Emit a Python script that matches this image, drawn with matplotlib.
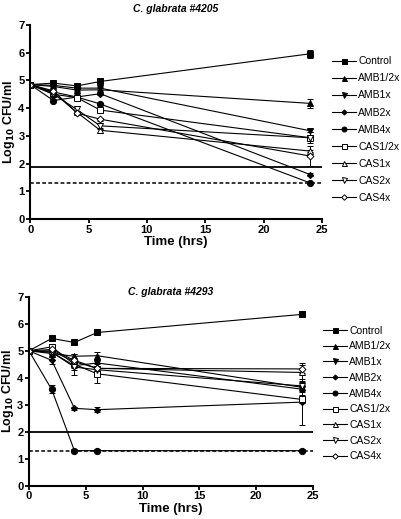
import numpy as np
import matplotlib
matplotlib.use('Agg')
import matplotlib.pyplot as plt

plt.rcParams['font.family'] = ['Liberation Sans', 'DejaVu Sans']

times = [0, 2, 4, 6, 24]
labels = ['Control', 'AMB1/2x', 'AMB1x', 'AMB2x', 'AMB4x',
          'CAS1/2x', 'CAS1x', 'CAS2x', 'CAS4x']

# C. glabrata #4205
vals_4205 = [
    [4.85, 4.90, 4.80, 4.96, 5.96],
    [4.85, 4.78, 4.65, 4.66, 4.17],
    [4.85, 4.82, 4.72, 4.72, 3.18],
    [4.85, 4.58, 4.40, 4.52, 1.60],
    [4.85, 4.27, 4.40, 4.15, 1.30],
    [4.85, 4.50, 4.38, 3.93, 2.93],
    [4.85, 4.55, 3.85, 3.20, 2.45],
    [4.85, 4.50, 3.95, 3.36, 2.93],
    [4.85, 4.62, 3.82, 3.60, 2.27],
]
err_4205 = [
    [0.05, 0.05, 0.05, 0.05, 0.15],
    [0.05, 0.05, 0.05, 0.05, 0.15],
    [0.05, 0.05, 0.05, 0.05, 0.05],
    [0.05, 0.05, 0.05, 0.05, 0.05],
    [0.05, 0.05, 0.12, 0.05, 0.05],
    [0.05, 0.05, 0.05, 0.05, 0.20],
    [0.05, 0.05, 0.05, 0.08, 0.05],
    [0.05, 0.05, 0.12, 0.10, 0.05],
    [0.05, 0.05, 0.05, 0.05, 0.35],
]
solid_4205 = 1.87

# C. glabrata #4293
vals_4293 = [
    [5.00, 5.46, 5.31, 5.68, 6.35],
    [5.00, 4.90, 4.80, 4.82, 3.65],
    [5.00, 4.95, 4.45, 4.55, 3.58],
    [5.00, 4.65, 2.87, 2.82, 3.10],
    [5.00, 3.57, 1.30, 1.30, 1.30],
    [5.00, 5.15, 4.50, 4.15, 3.20],
    [5.00, 5.00, 4.60, 4.35, 4.20],
    [5.00, 4.95, 4.40, 4.30, 3.70],
    [5.00, 5.05, 4.65, 4.35, 4.33],
]
err_4293 = [
    [0.05, 0.05, 0.05, 0.08, 0.05],
    [0.05, 0.08, 0.10, 0.12, 0.10],
    [0.05, 0.10, 0.10, 0.10, 0.10],
    [0.05, 0.12, 0.05, 0.10, 0.85],
    [0.05, 0.15, 0.05, 0.05, 0.05],
    [0.05, 0.10, 0.40, 0.35, 0.15],
    [0.05, 0.05, 0.10, 0.20, 0.35],
    [0.05, 0.05, 0.10, 0.15, 0.20],
    [0.05, 0.05, 0.10, 0.10, 0.15],
]
solid_4293 = 2.0
detect_limit = 1.3

markers = ['s', '^', 'v', 'D', 'o', 's', '^', 'v', 'D']
filled = [True, True, True, True, True, False, False, False, False]
msizes = [4.5, 4.5, 4.5, 3.2, 4.5, 4.5, 4.5, 4.5, 3.5]

fig = plt.figure(figsize=(4.02, 5.19), dpi=100)
ax1 = fig.add_axes([0.075, 0.578, 0.726, 0.374])
ax2 = fig.add_axes([0.072, 0.064, 0.707, 0.364])


def draw(ax, vals, errs, solid, title, pad, leg_y, spacing):
    handles = []
    for v, e, lab, m, f, ms in zip(vals, errs, labels, markers, filled, msizes):
        c = ax.errorbar(times, v, yerr=e, color='black', lw=0.8, marker=m, ms=ms,
                        mfc='black' if f else 'white', mec='black', mew=0.7,
                        capsize=2.5, elinewidth=0.7, capthick=0.7, label=lab)
        handles.append(c[0])
    ax.axhline(solid, color='black', lw=1.3)
    ax.axhline(detect_limit, color='black', lw=1.1, ls=(0, (2.5, 1.5)))
    ax.set_xlim(0, 25)
    ax.set_ylim(0, 7)
    ax.set_xticks(range(0, 26, 5))
    ax.set_yticks(range(0, 8))
    for s in ['top', 'right']:
        ax.spines[s].set_visible(False)
    for s in ['left', 'bottom']:
        ax.spines[s].set_linewidth(1.5)
    ax.tick_params(width=1.3, length=3, labelsize=8, pad=1)
    for t in ax.get_xticklabels() + ax.get_yticklabels():
        t.set_fontweight('bold')
    ax.set_xlabel('Time (hrs)', fontsize=9.5, fontweight='bold', labelpad=1)
    ax.set_ylabel('Log$_{\\mathbf{10}}$ CFU/ml', fontsize=9, fontweight='bold', labelpad=1)
    ax.set_title(title, fontsize=7.5, fontweight='bold', fontstyle='italic', pad=pad)
    ax.legend(handles, labels, loc='upper left', bbox_to_anchor=(1.02, leg_y),
              frameon=False, fontsize=7.5, handlelength=2.3, handletextpad=0.2,
              labelspacing=0.68 if spacing else 0.55, borderaxespad=0,
              markerscale=0.8)


draw(ax1, vals_4205, err_4205, solid_4205, 'C. glabrata #4205', 9, 0.86, True)
draw(ax2, vals_4293, err_4293, solid_4293, 'C. glabrata #4293', 1, 0.87, False)

fig.savefig('out.png', dpi=100)
